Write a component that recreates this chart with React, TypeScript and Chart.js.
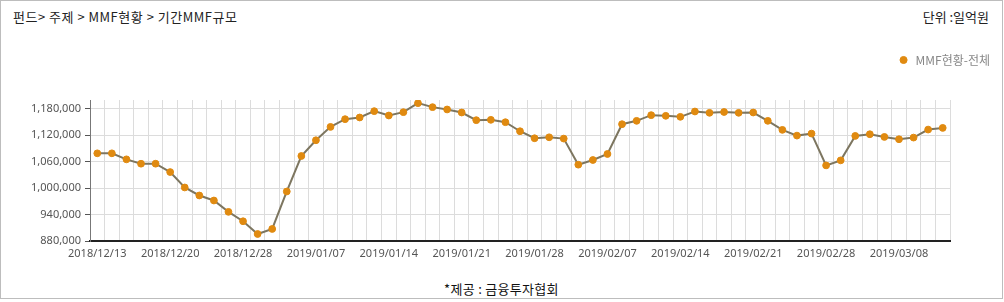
import React, { useEffect, useRef } from "react";
import { Chart, registerables } from "chart.js";

Chart.register(...registerables);

const dates: string[] = [
  "2018/12/13", "2018/12/14", "2018/12/17", "2018/12/18", "2018/12/19",
  "2018/12/20", "2018/12/21", "2018/12/24", "2018/12/26", "2018/12/27",
  "2018/12/28", "2018/12/31", "2019/01/02", "2019/01/03", "2019/01/04",
  "2019/01/07", "2019/01/08", "2019/01/09", "2019/01/10", "2019/01/11",
  "2019/01/14", "2019/01/15", "2019/01/16", "2019/01/17", "2019/01/18",
  "2019/01/21", "2019/01/22", "2019/01/23", "2019/01/24", "2019/01/25",
  "2019/01/28", "2019/01/29", "2019/01/30", "2019/01/31", "2019/02/01",
  "2019/02/07", "2019/02/08", "2019/02/11", "2019/02/12", "2019/02/13",
  "2019/02/14", "2019/02/15", "2019/02/18", "2019/02/19", "2019/02/20",
  "2019/02/21", "2019/02/22", "2019/02/25", "2019/02/26", "2019/02/27",
  "2019/02/28", "2019/03/04", "2019/03/05", "2019/03/06", "2019/03/07",
  "2019/03/08", "2019/03/11", "2019/03/12", "2019/03/13",
];

const mmfTotal: number[] = [
  1079000, 1079000, 1065300, 1055400, 1055400, 1036500, 1001500, 983300, 971900, 946100,
  924800, 895900, 907300, 992400, 1072900, 1108600, 1139000, 1156500, 1160300, 1174700,
  1164800, 1172400, 1192900, 1183800, 1178500, 1171600, 1154200, 1155000, 1149600, 1129100,
  1113200, 1115400, 1112400, 1053200, 1063800, 1077500, 1145100, 1152700, 1165600, 1164100,
  1161800, 1173900, 1170900, 1172800, 1170900, 1171600, 1152700, 1132200, 1119200, 1123800,
  1051600, 1063000, 1118500, 1122300, 1116200, 1110900, 1114700, 1132900, 1136700,
];

const yTicks: number[] = [880000, 940000, 1000000, 1060000, 1120000, 1180000];
const yMin = 880000;
const yMax = 1200000;
const seriesLabel = "MMF현황-전체";
const titleText = "펀드> 주제 > MMF현황 > 기간MMF규모";
const unitText = "단위 :일억원";
const sourceText = "*제공 : 금융투자협회";

const FONT = "'Noto Sans', 'Noto Sans CJK KR', sans-serif";
const KFONT = "'Noto Sans CJK KR', 'Noto Sans', sans-serif";

export default function App() {
  const canvasRef = useRef<HTMLCanvasElement | null>(null);

  useEffect(() => {
    if (!canvasRef.current) return;
    Chart.defaults.font.family = FONT;
    const legendSpacing = {
      id: "legendSpacing",
      beforeInit(chart: any) {
        const legend = chart.legend;
        if (!legend) return;
        const orig = legend.fit;
        legend.fit = function () {
          orig.call(legend);
          legend.height = 56;
        };
      },
    };
    const chart = new Chart(canvasRef.current, {
      type: "line",
      data: {
        labels: dates,
        datasets: [
          {
            label: seriesLabel,
            data: mmfTotal,
            borderColor: "#7d7660",
            borderWidth: 2,
            pointBackgroundColor: "#e08a10",
            pointBorderColor: "#e08a10",
            pointBorderWidth: 1,
            pointRadius: 3.4,
            tension: 0,
            fill: false,
          },
        ],
      },
      options: {
        animation: false,
        responsive: false,
        maintainAspectRatio: false,
        layout: { padding: { left: 0, right: 2, top: 0, bottom: 0 } },
        plugins: {
          legend: {
            display: true,
            position: "top",
            align: "end",
            labels: {
              usePointStyle: true,
              pointStyle: "circle",
              boxHeight: 5,
              padding: 10,
              color: "#888",
              font: { size: 12, family: KFONT },
            },
          },
          tooltip: { enabled: false },
        },
        scales: {
          x: {
            type: "category",
            offset: true,
            grid: { offset: true, color: "#dcdcdc", drawTicks: false },
            border: { color: "#222", width: 2 },
            ticks: {
              autoSkip: false,
              maxRotation: 0,
              padding: 6,
              color: "#555",
              font: { size: 11 },
              callback: (_v: any, i: number) => (i % 5 === 0 ? dates[i] : ""),
            },
            afterFit: (s: any) => {
              s.height = 30;
            },
          },
          y: {
            type: "linear",
            position: "left",
            min: yMin,
            max: yMax,
            grid: { color: "#dcdcdc", tickColor: "#555", tickLength: 5 },
            border: { color: "#777", width: 1 },
            ticks: {
              padding: 4,
              color: "#555",
              font: { size: 11 },
              callback: (v: any) => Number(v).toLocaleString("en-US"),
            },
            afterBuildTicks: (s: any) => {
              s.ticks = yTicks.map((v) => ({ value: v }));
            },
            afterFit: (s: any) => {
              s.width = 89;
            },
          },
          yRight: {
            type: "linear",
            position: "right",
            display: true,
            min: yMin,
            max: yMax,
            grid: { display: false, drawTicks: false },
            border: { display: false },
            ticks: { display: false },
            afterFit: (s: any) => {
              s.width = 50;
            },
          },
        },
      } as any,
      plugins: [legendSpacing],
    });
    return () => chart.destroy();
  }, []);

  return (
    <div
      style={{
        position: "fixed",
        left: 0,
        top: 0,
        width: 1003,
        height: 299,
        border: "1px solid #bdbdbd",
        boxSizing: "border-box",
        background: "#fff",
        fontFamily: KFONT,
      }}
    >
      <div
        style={{
          position: "absolute",
          left: 12,
          top: 8,
          fontSize: 13,
          lineHeight: "16px",
          letterSpacing: "0.5px",
          color: "#222",
          whiteSpace: "nowrap",
        }}
      >
        {titleText}
      </div>
      <div
        style={{
          position: "absolute",
          right: 13,
          top: 8,
          fontSize: 13,
          lineHeight: "16px",
          color: "#222",
          whiteSpace: "nowrap",
        }}
      >
        {unitText}
      </div>
      <div style={{ position: "absolute", left: 0, top: 43, width: 1001, height: 227 }}>
        <canvas ref={canvasRef} width={1001} height={227} style={{ display: "block", width: 1001, height: 227 }} />
      </div>
      <div
        style={{
          position: "absolute",
          left: 0,
          right: 0,
          top: 280,
          textAlign: "center",
          fontSize: 13,
          lineHeight: "16px",
          letterSpacing: "0.3px",
          color: "#111",
          whiteSpace: "nowrap",
        }}
      >
        {sourceText}
      </div>
    </div>
  );
}
